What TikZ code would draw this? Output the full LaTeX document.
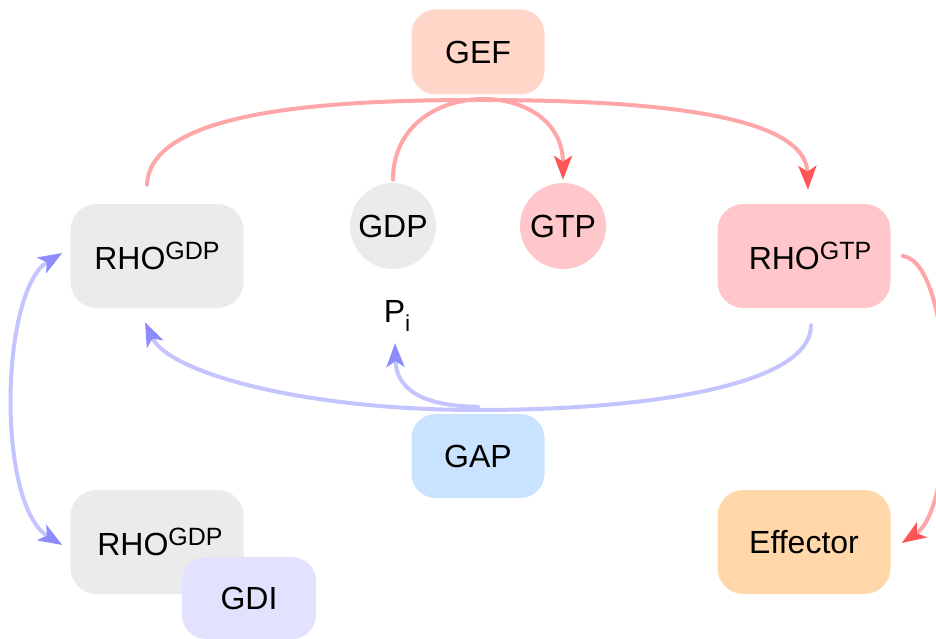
\documentclass[tikz,border=0pt]{standalone}
\usepackage{fontspec}
\setmainfont{Liberation Sans}
\usetikzlibrary{arrows.meta,calc}
\definecolor{gdpgray}{HTML}{EBEBEB}
\definecolor{gefc}{HTML}{FFD6C8}
\definecolor{gtpc}{HTML}{FFC7C9}
\definecolor{gapc}{HTML}{C9E3FF}
\definecolor{gdic}{HTML}{E2E2FF}
\definecolor{effc}{HTML}{FFD7A8}
\definecolor{redline}{HTML}{FFA6A8}
\definecolor{redtip}{HTML}{FF5555}
\definecolor{blueline}{HTML}{C4C4FF}
\definecolor{bluetip}{HTML}{8C8CFF}
\newcommand\rsup[1]{\raisebox{10pt}{\fontsize{25}{26}\selectfont #1}}
\newcommand\rsub[1]{\raisebox{-9pt}{\fontsize{23}{23}\selectfont #1}}
\begin{document}
\begin{tikzpicture}[x=1pt,y=-1pt,
  font=\fontsize{32}{36}\selectfont,
  box/.style={rounded corners=26pt, minimum width=173pt, minimum height=104pt, inner sep=0pt},
  smallbox/.style={rounded corners=24pt, minimum width=133pt, minimum height=84pt, inner sep=0pt},
  ball/.style={circle, minimum size=86pt, inner sep=0pt},
  tip/.style={-{Stealth[length=24pt,width=18pt,inset=6pt,color=#1]}},
  redarrow/.style={draw=redline, line width=4pt, line cap=round, tip=redtip},
  bluearrow/.style={draw=blueline, line width=4pt, line cap=round, tip=bluetip},
  bluedouble/.style={draw=blueline, line width=4pt, line cap=round,
    {Stealth[length=24pt,width=18pt,inset=6pt,color=bluetip]}-{Stealth[length=24pt,width=18pt,inset=6pt,color=bluetip]}}
]
\useasboundingbox (0,0) rectangle (936,639);

\node[smallbox, fill=gefc, minimum height=85pt] (gef) at (478,52) {GEF};
\node[box, fill=gdpgray] (rgdp) at (157,256) {RHO\rsup{GDP}};
\node[ball, fill=gdpgray] (gdp) at (393,226) {GDP};
\node[ball, fill=gtpc] (gtp) at (563,226) {GTP};
\node[box, fill=gtpc] (rgtp) at (804,256) {\hspace{12pt}RHO\rsup{GTP}};
\node (pi) at (397,316) {P\rsub{i}};
\node[smallbox, fill=gapc] (gap) at (478,456) {GAP};
\node[box, fill=gdpgray] (rgdp2) at (157,542) {\hspace{6pt}RHO\rsup{GDP}};
\node[smallbox, fill=gdic, minimum width=134pt, minimum height=82pt] (gdi) at (249,598) {GDI};
\node[box, fill=effc] (eff) at (804,542) {Effector};

% red arcs
\draw[redarrow] ($(rgdp.north)+(-10,-19)$) .. controls (150,110) and (330,100) .. (478,100)
  .. controls (640,100) and (806,112) .. ($(rgtp.north)+(4,-14)$);
\draw[redarrow] ($(gdp.north)+(0,-3)$) .. controls (393,75) and (563,75) .. ($(gtp.north)+(0,-3)$);
\draw[redarrow] ($(rgtp.east)+(12,0)$) .. controls (955,262) and (960,505) .. ($(eff.east)+(11,1)$);

% blue arcs
\draw[bluearrow] ($(rgtp.south)+(7,17)$) .. controls (811,385) and (650,410) .. (478,410)
  .. controls (300,410) and (168,372) .. ($(rgdp.south)+(-12,14)$);
\draw[bluearrow] ($(gap.north)+(0,-7)$) .. controls (420,406) and (396,388) .. ($(pi.south)+(-2,8)$);
\draw[bluedouble] ($(rgdp.west)+(-8,-3)$) .. controls (0,290) and (-4,505) .. ($(rgdp2.west)+(-8,3)$);
\end{tikzpicture}
\end{document}
